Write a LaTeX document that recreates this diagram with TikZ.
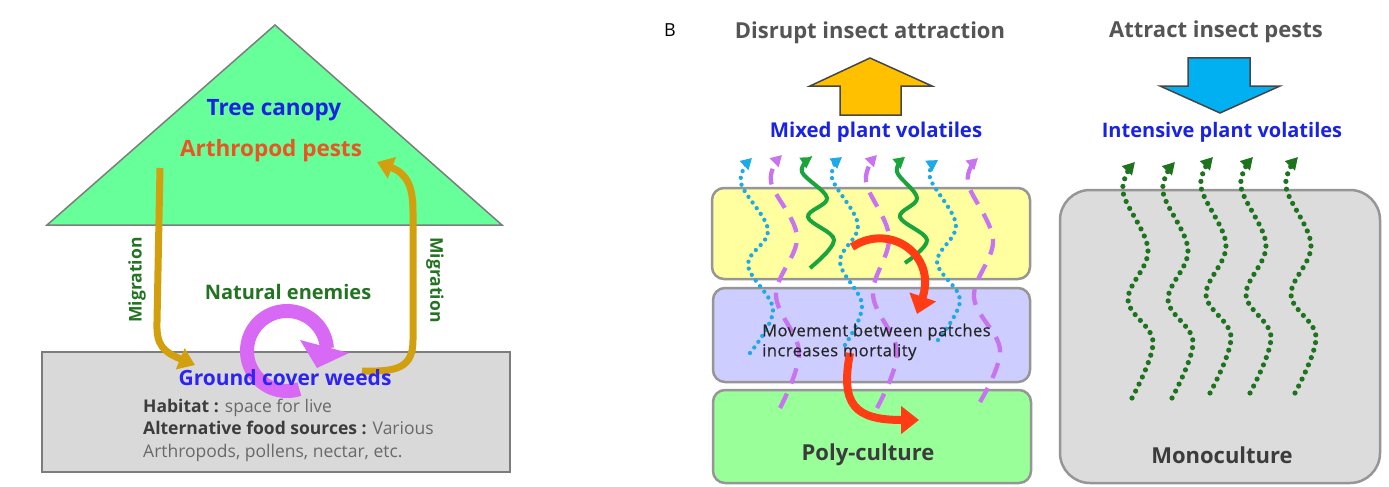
\documentclass[tikz,border=0pt]{standalone}
\usepackage{fontspec}
\setmainfont{Open Sans}
\newfontfamily\medfont[FakeBold=0.5, LetterSpace=3]{Open Sans}
\usetikzlibrary{arrows.meta}
\definecolor{canopy}{RGB}{102,255,153}
\definecolor{boxgray}{RGB}{217,217,217}
\definecolor{edgegray}{RGB}{125,125,125}
\definecolor{patchedge}{RGB}{150,150,150}
\definecolor{tblue}{RGB}{25,35,225}
\definecolor{tvblue}{RGB}{45,35,245}
\definecolor{pestred}{RGB}{235,85,35}
\definecolor{tgreen}{RGB}{35,115,35}
\definecolor{migr}{RGB}{210,160,15}
\definecolor{ringmag}{RGB}{215,105,245}
\definecolor{darktext}{RGB}{60,60,60}
\definecolor{lighttext}{RGB}{105,105,105}
\definecolor{headgray}{RGB}{85,85,85}
\definecolor{ybox}{RGB}{255,255,160}
\definecolor{pbox}{RGB}{205,205,255}
\definecolor{gbox}{RGB}{153,255,153}
\definecolor{monobox}{RGB}{220,220,220}
\definecolor{redarr}{RGB}{255,60,20}
\definecolor{uparr}{RGB}{255,192,0}
\definecolor{downarr}{RGB}{0,176,240}
\definecolor{arredge}{RGB}{70,70,70}
\definecolor{vblue}{RGB}{30,170,230}
\definecolor{vpurple}{RGB}{200,115,240}
\definecolor{vgreen}{RGB}{25,165,60}
\definecolor{vdkgreen}{RGB}{30,115,30}
\begin{document}
\begin{tikzpicture}[x=1pt,y=-1pt,
  fbig/.style={font=\fontsize{21}{25}\selectfont\bfseries},
  fhead/.style={font=\fontsize{22}{26}\selectfont\bfseries, text=headgray},
  fmig/.style={font=\fontsize{17.5}{20}\selectfont\bfseries, text=tgreen},
  fsmall/.style={font=\fontsize{17.5}{22.5}\selectfont},
  migrarrow/.style={draw=migr, line width=7pt, -{Triangle[length=16pt,width=22pt]}},
  redarrow/.style={draw=redarr, line width=8pt, -{Triangle[length=18pt,width=27pt]}},
  patch/.style={draw=patchedge, line width=2.5pt, rounded corners=12pt},
  voltip/.style={-{Triangle[length=11pt,width=12pt]}},
  voldot/.style={voltip, draw=vblue, line width=4.3pt, line cap=round, dash pattern=on 0pt off 7pt},
  voldash/.style={voltip, draw=vpurple, line width=4.3pt, dash pattern=on 16pt off 11pt},
  volsolid/.style={voltip, draw=vgreen, line width=4pt},
  monodot/.style={-{Triangle[length=12pt,width=13pt]}, draw=vdkgreen, line width=5.2pt, line cap=round, dash pattern=on 0pt off 7.8pt},
]
\useasboundingbox (0,0) rectangle (1389,487);
\fill[white] (0,0) rectangle (1389,487);

% ---------- Panel A ----------
\filldraw[fill=canopy, draw=edgegray, line width=1.5pt] (275,25) -- (502,225) -- (47,225) -- cycle;
\node[draw=edgegray, fill=boxgray, line width=1.5pt, minimum width=468pt, minimum height=120pt, inner sep=0pt] (ground) at (276,412) {};

\coordinate (m1s) at (160,168);
\coordinate (m1e) at (195,365);
\coordinate (m2s) at (362,371);
\coordinate (m2e) at (377,162);
\draw[migrarrow] (m1s) -- (157,322) .. controls (156,346) and (164,352) .. (m1e);
\draw[migrarrow] (m2s) .. controls (397,372) and (413,368) .. (413,340) -- (413,212) .. controls (413,188) and (408,174) .. (m2e);

% natural enemies ring
\draw[ringmag, line width=14pt] plot[domain=72:356, samples=80] ({287+40*cos(\x)}, {351+40*sin(\x)});
\fill[ringmag] (300,340) -- (349,353) -- (317,368) -- cycle;

\node[font=\fontsize{22.5}{26}\selectfont\bfseries, text=tblue] (tc) at (274,110) {Tree canopy};
\node[font=\fontsize{22.5}{26}\selectfont\bfseries, text=pestred] (ap) at (271,151) {Arthropod pests};
\node[font=\fontsize{20}{24}\selectfont\bfseries, text=tgreen] (ne) at (288,292) {Natural enemies};
\node[fbig, text=tvblue] (gw) at (285,378) {Ground cover weeds};
\node[fmig, rotate=90] (mig1) at (137,280) {Migration};
\node[fmig, rotate=-90] (mig2) at (435,280) {Migration};
\node[fsmall, anchor=west, align=left, inner sep=0pt] (hab) at (143,430)
  {{\bfseries\color{darktext}Habitat :} \color{lighttext}space for live\\
   {\bfseries\color{darktext}Alternative food sources :} \color{lighttext}Various\\
   \color{lighttext}Arthropods, pollens, nectar, etc.};

% ---------- Panel B ----------
\node[font=\fontsize{18}{20}\selectfont] (B) at (670,30) {B};
\node[fhead] (dia) at (870,33) {Disrupt insect attraction};
\node[fhead] (aip) at (1216,32) {Attract insect pests};

\filldraw[fill=uparr, draw=arredge, line width=1.5pt, line join=miter]
  (870,58) -- (932,86) -- (901,86) -- (901,115) -- (840,115) -- (840,86) -- (810,86) -- cycle;
\filldraw[fill=downarr, draw=arredge, line width=1.5pt, line join=miter]
  (1188,58) -- (1250,58) -- (1250,86) -- (1280,86) -- (1220,113) -- (1160,86) -- (1188,86) -- cycle;

\node[font=\fontsize{20.4}{24}\selectfont\bfseries, text=tblue] (mpv) at (876,132) {Mixed plant volatiles};
\node[font=\fontsize{20}{24}\selectfont\bfseries, text=tblue] (ipv) at (1222,132) {Intensive plant volatiles};

\node[patch, fill=ybox, minimum width=318pt, minimum height=91pt] (yel) at (871,233.5) {};
\node[patch, fill=pbox, minimum width=317pt, minimum height=94pt] (pur) at (871.5,335) {};
\node[patch, fill=gbox, minimum width=318pt, minimum height=93pt] (grn) at (872,436.5) {};
\node[draw=patchedge, line width=2.5pt, rounded corners=30pt, fill=monobox, minimum width=320pt, minimum height=293pt] (mono) at (1220,336.5) {};

% mixed volatiles
\draw[voldot] plot[smooth, tension=0.6] coordinates {(750,353) (773,310) (748,265) (768,230) (741,183) (752,158)};
\draw[voldot] plot[smooth, tension=0.6] coordinates {(845,345) (862,305) (840,262) (858,225) (832,178) (842,157)};
\draw[voldot] plot[smooth, tension=0.6] coordinates {(938,340) (960,300) (937,262) (956,225) (930,178) (938,160)};
\draw[voldash] plot[smooth, tension=0.6] coordinates {(780,408) (799,352) (776,295) (797,237) (771,182) (782,155)};
\draw[voldash] plot[smooth, tension=0.6] coordinates {(877,408) (897,352) (873,295) (889,237) (866,182) (877,155)};
\draw[voldash] plot[smooth, tension=0.6] coordinates {(980,402) (1000,350) (974,297) (993,240) (968,183) (978,158)};
\draw[volsolid] plot[smooth, tension=0.6] coordinates {(810,268) (834,240) (808,217) (827,198) (802,172) (812,157)};
\draw[volsolid] plot[smooth, tension=0.6] coordinates {(905,263) (927,240) (900,217) (917,198) (897,172) (905,157)};

% movement arrows
\coordinate (r1s) at (852,247);
\coordinate (r1e) at (917,314);
\coordinate (r2s) at (850,353);
\coordinate (r2e) at (919,420);
\draw[redarrow] (r1s) .. controls (890,222) and (937,255) .. (r1e);
\draw[redarrow] (r2s) .. controls (840,405) and (855,420) .. (r2e);

\node[anchor=west, align=left, font=\medfont\fontsize{16.5}{20}\selectfont, text=black!85, inner sep=0pt] (mv) at (762,342) {Movement between patches\\increases mortality};
\node[font=\fontsize{22}{26}\selectfont\bfseries, text=darktext] (pc) at (868,455) {Poly-culture};

% intensive volatiles
\foreach \dx/\dy in {0/0, 40/0, 78/-5, 118/-5, 163/-5}{
  \draw[monodot, shift={(\dx,\dy)}] plot[smooth, tension=0.6] coordinates {(1132,398) (1153,342) (1128,300) (1148,250) (1123,192) (1135,162)};
}
\node[font=\fontsize{22}{26}\selectfont\bfseries, text=darktext] (mc) at (1222,455) {Monoculture};
\end{tikzpicture}
\end{document}
